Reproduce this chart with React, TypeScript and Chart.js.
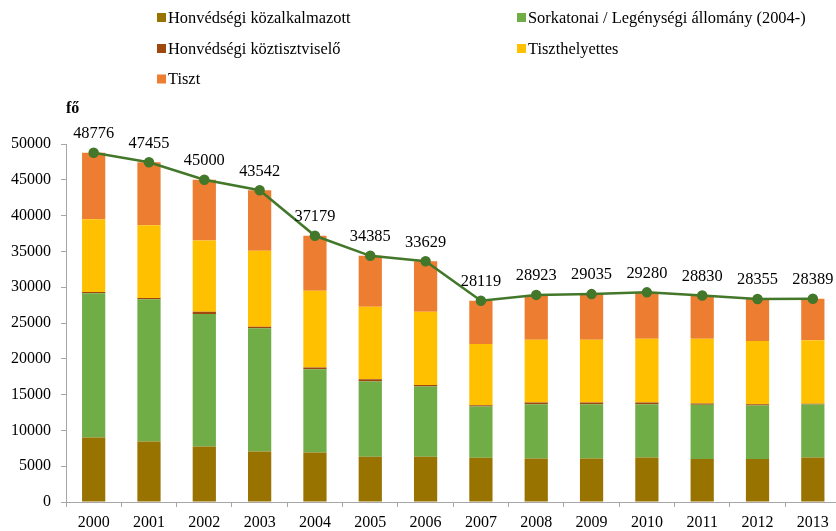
import React, { useEffect, useRef } from "react";
import { Chart, registerables } from "chart.js";

Chart.register(...registerables);

const years = ["2000", "2001", "2002", "2003", "2004", "2005", "2006", "2007", "2008", "2009", "2010", "2011", "2012", "2013"];
const kozalkalmazott = [9000, 8450, 7750, 7055, 6915, 6315, 6315, 6175, 6080, 6080, 6220, 5995, 5995, 6220];
const sorkatonai = [20140, 19850, 18505, 17205, 11630, 10500, 9805, 7155, 7585, 7585, 7445, 7570, 7475, 7390];
const koztisztviselo = [190, 190, 320, 230, 225, 330, 235, 195, 225, 225, 225, 185, 195, 100];
const tiszthelyettes = [10175, 10175, 9955, 10590, 10730, 10130, 10220, 8545, 8780, 8780, 8920, 9060, 8825, 8885];
const tiszt = [9271, 8790, 8470, 8462, 7679, 7110, 7054, 6049, 6253, 6365, 6470, 6020, 5865, 5794];
const osszesen = [48776, 47455, 45000, 43542, 37179, 34385, 33629, 28119, 28923, 29035, 29280, 28830, 28355, 28389];

const FONT = '"Liberation Serif", "Times New Roman", serif';
const LINE_COLOR = "#43772a";

const legendPlugin = {
  id: "customLegend",
  afterDraw(chart: any) {
    const ctx = chart.ctx;
    const ds = chart.data.datasets.filter((d: any) => d.type !== "line");
    const cols = [157, 517];
    const rows = [17.5, 48.5, 79];
    ctx.save();
    ctx.font = `16.4px ${FONT}`;
    ctx.textBaseline = "middle";
    ctx.textAlign = "left";
    ds.forEach((d: any, i: number) => {
      const cx = cols[i % 2];
      const cy = rows[Math.floor(i / 2)];
      ctx.fillStyle = d.backgroundColor;
      ctx.fillRect(cx, cy - 4.5, 9, 9);
      ctx.fillStyle = "#000";
      ctx.fillText(d.label, cx + 11, cy + 1);
    });
    ctx.font = `bold 16px ${FONT}`;
    ctx.fillText("fő", 66, 109);
    ctx.restore();
  },
};

const labelPlugin = {
  id: "lineLabels",
  afterDatasetsDraw(chart: any) {
    const ctx = chart.ctx;
    chart.data.datasets.forEach((d: any, di: number) => {
      if (d.type !== "line") return;
      const meta = chart.getDatasetMeta(di);
      ctx.save();
      ctx.font = `16.4px ${FONT}`;
      ctx.fillStyle = "#000";
      ctx.textAlign = "center";
      ctx.textBaseline = "middle";
      meta.data.forEach((pt: any, i: number) => {
        ctx.fillText(String(d.data[i]), pt.x, pt.y - 19);
      });
      ctx.restore();
    });
  },
};

export default function App() {
  const ref = useRef<HTMLCanvasElement>(null);
  useEffect(() => {
    document.body.style.margin = "0";
    const canvas = ref.current!;
    const chart = new Chart(canvas, {
      type: "bar",
      data: {
        labels: years,
        datasets: [
          { label: "Honvédségi közalkalmazott", data: kozalkalmazott, backgroundColor: "#997300", stack: "s", order: 1 },
          { label: "Sorkatonai / Legénységi állomány (2004-)", data: sorkatonai, backgroundColor: "#70ad47", stack: "s", order: 1 },
          { label: "Honvédségi köztisztviselő", data: koztisztviselo, backgroundColor: "#9e480e", stack: "s", order: 1 },
          { label: "Tiszthelyettes", data: tiszthelyettes, backgroundColor: "#ffc000", stack: "s", order: 1 },
          { label: "Tiszt", data: tiszt, backgroundColor: "#ed7d31", stack: "s", order: 1 },
          {
            type: "line",
            label: "Összesen",
            data: osszesen,
            stack: "total",
            borderColor: LINE_COLOR,
            backgroundColor: LINE_COLOR,
            borderWidth: 2.5,
            pointRadius: 4,
            pointBackgroundColor: LINE_COLOR,
            pointBorderColor: LINE_COLOR,
            tension: 0,
            order: 0,
          } as any,
        ],
      },
      options: {
        responsive: false,
        animation: false,
        devicePixelRatio: 1,
        layout: { padding: { top: 144, left: 0, right: 2, bottom: 0 } },
        datasets: { bar: { barPercentage: 0.42, categoryPercentage: 1 } },
        plugins: { legend: { display: false }, tooltip: { enabled: false } },
        scales: {
          x: {
            stacked: true,
            grid: { drawOnChartArea: false, tickLength: 5, color: "#a6a6a6", offset: true },
            border: { color: "#a6a6a6" },
            ticks: { color: "#000", font: { family: FONT, size: 16 }, padding: 6, maxRotation: 0 },
            afterFit: (s: any) => { s.height = 29; },
          },
          y: {
            stacked: true,
            min: 0,
            max: 50000,
            grid: { drawOnChartArea: false, tickLength: 5, color: "#a6a6a6" },
            border: { color: "#a6a6a6" },
            ticks: {
              stepSize: 5000,
              color: "#000",
              font: { family: FONT, size: 16 },
              padding: 10,
              callback: (v: any) => String(v),
            },
            afterFit: (s: any) => { s.width = 66; },
          },
        },
      },
      plugins: [legendPlugin, labelPlugin],
    });
    return () => chart.destroy();
  }, []);
  return (
    <div style={{ position: "fixed", left: 0, top: 0, width: 847, height: 531, background: "#fff" }}>
      <canvas ref={ref} width={847} height={531} style={{ display: "block" }} />
    </div>
  );
}
